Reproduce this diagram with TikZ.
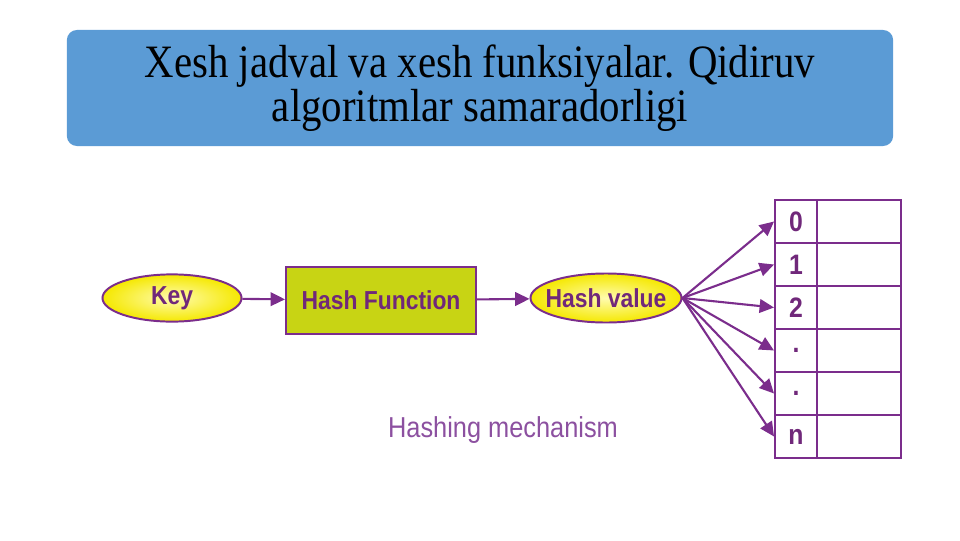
\documentclass[tikz,border=0pt]{standalone}
\usepackage{fontspec}
\setmainfont[FakeStretch=0.88]{Liberation Serif}
\setsansfont[FakeStretch=0.88]{Liberation Sans}
\usepackage{tikz}
\usetikzlibrary{arrows.meta,positioning,shapes.geometric}

\definecolor{titleblue}{RGB}{91,155,213}
\definecolor{hashpurple}{RGB}{123,45,140}
\definecolor{textpurple}{RGB}{112,40,122}
\definecolor{lightpurple}{RGB}{140,80,160}
\definecolor{hashyellow}{RGB}{245,232,0}
\definecolor{paleyellow}{RGB}{255,252,175}
\definecolor{hashgreen}{RGB}{200,212,20}

\begin{document}
\begin{tikzpicture}[
  x=0.025cm, y=-0.025cm,
  title/.style={fill=titleblue, rounded corners=0.25cm, align=center,
    minimum width=20.65cm, minimum height=2.9cm,
    font=\fontsize{33}{28.5}\selectfont},
  oval/.style={ellipse, draw=hashpurple, line width=1.4pt, inner sep=0pt,
    inner xsep=-0.2cm, shading=radial, inner color=paleyellow,
    outer color=hashyellow, text=textpurple,
    font=\sffamily\bfseries\fontsize{18.5}{20}\selectfont},
  funcbox/.style={rectangle, draw=hashpurple, line width=1.4pt, fill=hashgreen,
    minimum width=4.75cm, minimum height=1.675cm,
    text=textpurple, font=\sffamily\bfseries\fontsize{18.5}{20}\selectfont},
  idxcell/.style={rectangle, draw=hashpurple, line width=1.4pt,
    minimum width=1.05cm, minimum height=1.075cm, inner sep=0pt,
    text=textpurple, font=\sffamily\bfseries\fontsize{20}{22}\selectfont},
  valcell/.style={rectangle, draw=hashpurple, line width=1.4pt,
    minimum width=2.1cm, minimum height=1.075cm, inner sep=0pt},
  arr/.style={-{Triangle[length=3.6mm, width=3.4mm]}, draw=hashpurple,
    line width=1.5pt}
]
\useasboundingbox (0,0) rectangle (960,540);

\node[title] (head) at (480,88)
  {Xesh jadval va xesh funksiyalar. Qidiruv\\ algoritmlar samaradorligi};

\node[oval, minimum width=3.475cm, minimum height=1.18cm] (key) at (172,298) {Key};
\node[funcbox] (hfunc) at (381,300.5) {Hash Function};
\node[oval, minimum width=3.775cm, minimum height=1.225cm] (hval) at (606,298) {Hash value};

% table of buckets
\foreach \lbl [count=\i from 0] in {0,1,2,.,.,n} {
  \node[idxcell] (idx\i) at (796,{221.5+43*\i}) {\lbl};
  \node[valcell] (val\i) at (859,{221.5+43*\i}) {};
  \draw[arr] (hval.east) -- (idx\i.west);
}

\draw[arr] (key) -- (hfunc);
\draw[arr] (hfunc) -- (hval);

\node[text=lightpurple, font=\sffamily\fontsize{20.5}{22}\selectfont] (caption) at (503,430)
  {Hashing mechanism};
\end{tikzpicture}
\end{document}
